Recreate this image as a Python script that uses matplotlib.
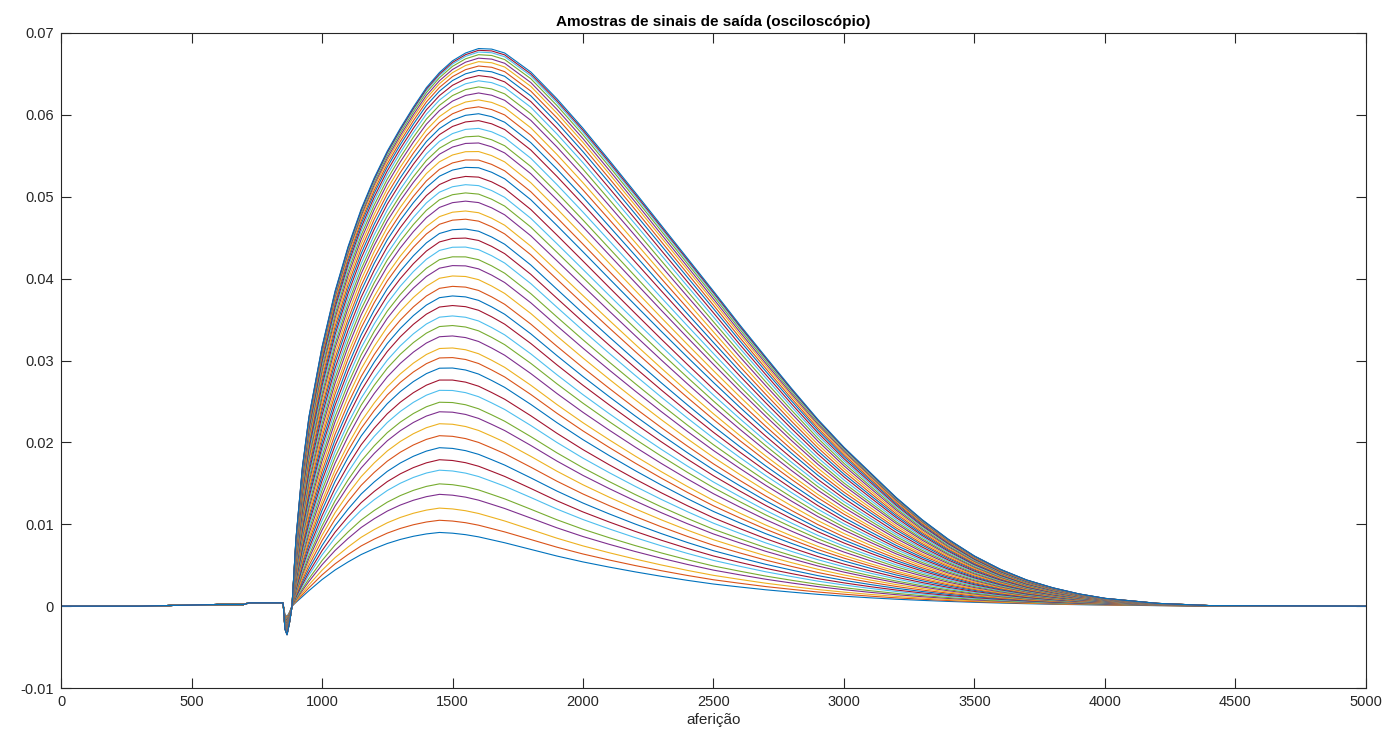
import numpy as np
import matplotlib
matplotlib.use("Agg")
import matplotlib.pyplot as plt

plt.rcParams["font.family"] = ["Liberation Sans", "DejaVu Sans"]

# Peak amplitude of each recorded output pulse (V), smallest to largest
peak_values = [
    0.0090, 0.0105, 0.0120, 0.0137, 0.0150, 0.0167, 0.0180, 0.0195, 0.0210,
    0.0225, 0.0240, 0.0252, 0.0267, 0.0280, 0.0295, 0.0308, 0.0320, 0.0335,
    0.0348, 0.0360, 0.0373, 0.0385, 0.0397, 0.0410, 0.0423, 0.0434, 0.0446,
    0.0457, 0.0468, 0.0480, 0.0490, 0.0502, 0.0512, 0.0522, 0.0532, 0.0543,
    0.0552, 0.0562, 0.0572, 0.0580, 0.0589, 0.0598, 0.0606, 0.0614, 0.0622,
    0.0630, 0.0637, 0.0644, 0.0650, 0.0656, 0.0661, 0.0666, 0.0670, 0.0674,
    0.0677, 0.0679, 0.0681,
]

# Baseline before the trigger (same for every acquisition)
pre_x = [0, 300, 600, 700, 720, 850]
pre_y = [0.0, 0.0, 0.0002, 0.0002, 0.0004, 0.0004]

# Trigger glitch, normalised to its deepest point
dip_x = [852, 858, 866, 876, 885]
dip_shape = [0.0, -0.8, -1.0, -0.55, 0.0]
dip_depth = 0.0035

# Pulse samples, normalised to the peak, for the weakest and strongest pulses
pulse_x = [900, 925, 950, 1000, 1050, 1100, 1150, 1200, 1250, 1300, 1350,
           1400, 1450, 1500, 1550, 1600, 1650, 1700, 1800, 1900, 2000, 2100,
           2200, 2300, 2400, 2500, 2600, 2700, 2800, 2900, 3000, 3100, 3200,
           3300, 3400, 3500, 3600, 3700, 3800, 3900, 4000, 4200, 4400, 5000]
shape_weak = [0.05, 0.13, 0.21, 0.36, 0.49, 0.60, 0.70, 0.78, 0.85, 0.905,
              0.948, 0.98, 1.0, 0.99, 0.97, 0.94, 0.90, 0.86, 0.77, 0.68,
              0.60, 0.53, 0.465, 0.405, 0.35, 0.30, 0.26, 0.222, 0.19, 0.16,
              0.135, 0.113, 0.094, 0.078, 0.064, 0.052, 0.042, 0.033, 0.026,
              0.020, 0.015, 0.007, 0.001, 0.0]
shape_strong = [0.12, 0.25, 0.34, 0.465, 0.565, 0.645, 0.712, 0.768, 0.816,
                0.857, 0.895, 0.93, 0.957, 0.978, 0.992, 1.0, 0.999, 0.992,
                0.958, 0.91, 0.857, 0.80, 0.742, 0.683, 0.624, 0.565, 0.505,
                0.447, 0.39, 0.335, 0.285, 0.24, 0.195, 0.155, 0.12, 0.09,
                0.066, 0.047, 0.033, 0.022, 0.014, 0.005, 0.001, 0.0]

colors = ["#0072BD", "#D95319", "#EDB120", "#7E2F8E",
          "#77AC30", "#4DBEEE", "#A2142F"]

fig = plt.figure(figsize=(13.9, 7.43), dpi=100)
ax = fig.add_axes([0.0439, 0.074, 0.9388, 0.8816])

a_min, a_max = min(peak_values), max(peak_values)
x_all = np.array(pre_x + dip_x + pulse_x, dtype=float)
for i, a in enumerate(peak_values):
    w = (a - a_min) / (a_max - a_min)
    shape = (1 - w) * np.array(shape_weak) + w * np.array(shape_strong)
    dip = np.array(dip_shape) * dip_depth * np.sqrt(a / a_max)
    y_all = np.concatenate([pre_y, dip, a * shape])
    ax.plot(x_all, y_all, color=colors[i % len(colors)], lw=0.8)

ax.set_xlim(0, 5000)
ax.set_ylim(-0.01, 0.07)
ax.set_xticks(np.arange(0, 5001, 500))
ax.set_xticklabels([str(v) for v in range(0, 5001, 500)])
yt = [-0.01, 0.0, 0.01, 0.02, 0.03, 0.04, 0.05, 0.06, 0.07]
ax.set_yticks(yt)
ax.set_yticklabels(["-0.01", "0", "0.01", "0.02", "0.03", "0.04", "0.05",
                    "0.06", "0.07"])

edge = "#262626"
for s in ax.spines.values():
    s.set_color(edge)
    s.set_linewidth(0.8)
ax.tick_params(direction="in", top=True, right=True, length=7, width=0.8,
               color=edge, labelcolor=edge, labelsize=10.5, pad=5)

ax.set_title("Amostras de sinais de saída (osciloscópio)", fontsize=11,
             fontweight="bold", color="black", pad=5)
ax.set_xlabel("aferição", fontsize=11, color=edge, labelpad=3)

fig.savefig("out.png", dpi=100)
